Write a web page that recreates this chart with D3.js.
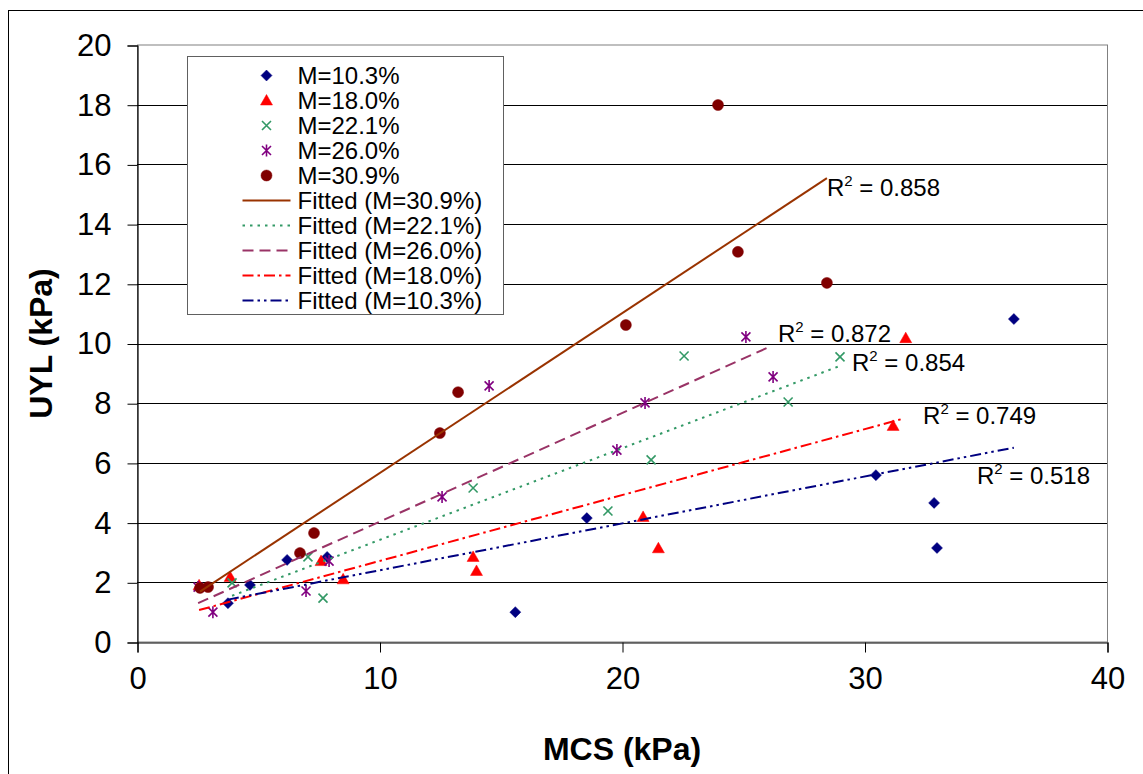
<!DOCTYPE html>
<html>
<head>
<meta charset="utf-8">
<script src="https://cdn.jsdelivr.net/npm/d3@7"></script>
<style>
  body { margin: 0; background: #fff; }
  text { font-family: "Liberation Sans", Arial, sans-serif; fill: #000; }
</style>
</head>
<body>
<div id="chart"></div>
<script>
// data (MCS in kPa, UYL in kPa)
const seriesNames = ["M=10.3%", "M=18.0%", "M=22.1%", "M=26.0%", "M=30.9%"];

const mcs103 = [3.75, 4.66, 6.19, 7.84, 15.6, 18.55, 30.47, 32.87, 32.99, 36.16];
const uyl103 = [1.3, 1.91, 2.75, 2.85, 1.0, 4.15, 5.59, 4.66, 3.15, 10.82];

const mcs180 = [2.56, 3.84, 7.59, 8.5, 13.86, 14.0, 20.87, 21.5, 31.18, 31.7];
const uyl180 = [1.9, 2.18, 2.71, 2.1, 2.85, 2.38, 4.19, 3.14, 7.24, 10.18];

const mcs221 = [3.92, 7.05, 7.67, 13.86, 19.42, 21.2, 22.56, 26.85, 28.99];
const uyl221 = [1.98, 2.85, 1.47, 5.16, 4.39, 6.1, 9.58, 8.04, 9.55];

const mcs260 = [2.52, 3.13, 6.97, 7.92, 12.58, 14.52, 19.79, 20.95, 26.23, 25.11];
const uyl260 = [1.84, 1.0, 1.71, 2.71, 4.86, 8.58, 6.43, 8.01, 8.88, 10.22];

const mcs309 = [2.6, 2.93, 6.72, 7.3, 12.49, 13.24, 20.16, 24.78, 28.45, 23.96];
const uyl309 = [1.81, 1.84, 2.98, 3.65, 7.0, 8.37, 10.62, 13.07, 12.03, 17.99];

// fitted lines, start and end points as drawn in the picture
const fitNames = ["Fitted (M=30.9%)", "Fitted (M=22.1%)", "Fitted (M=26.0%)", "Fitted (M=18.0%)", "Fitted (M=10.3%)"];
const fit309 = [[2.6, 1.69], [28.45, 15.54]];
const fit221 = [[3.92, 1.55], [28.99, 9.25]];
const fit260 = [[2.52, 1.3], [26.06, 9.88]];
const fit180 = [[2.56, 1.07], [31.59, 7.48]];
const fit103 = [[3.75, 1.42], [36.16, 6.51]];
const rSquared = ["0.858", "0.854", "0.872", "0.749", "0.518"];

const xTicks = [0, 10, 20, 30, 40];
const yTicks = [0, 2, 4, 6, 8, 10, 12, 14, 16, 18, 20];

const W = 1143, H = 774;
const margin = { top: 45, right: 36, bottom: 132, left: 137 };
const width = W - margin.left - margin.right;
const height = H - margin.top - margin.bottom;

const svg = d3.select("#chart").append("svg")
    .attr("width", W)
    .attr("height", H);

// outer chart border (runs off the right and bottom edge)
svg.append("rect")
    .attr("x", 8.5).attr("y", 10.5)
    .attr("width", W + 20).attr("height", H + 20)
    .attr("fill", "#fff")
    .attr("stroke", "#000");

const g = svg.append("g")
    .attr("transform", `translate(${margin.left},${margin.top})`);

const x = d3.scaleLinear().domain([0, 40]).range([0, width]);
const y = d3.scaleLinear().domain([0, 20]).range([height, 0]);

// plot area border
g.append("rect")
    .attr("x", 0.5).attr("y", 0)
    .attr("width", width).attr("height", height)
    .attr("fill", "#fff")
    .attr("stroke", "#808080");

// horizontal grid lines
g.selectAll("line.grid")
    .data(yTicks.filter(d => d > 0 && d < 20))
    .enter().append("line")
    .attr("class", "grid")
    .attr("x1", 0).attr("x2", width)
    .attr("y1", d => Math.round(y(d)) + 0.5)
    .attr("y2", d => Math.round(y(d)) + 0.5)
    .attr("stroke", "#000");

// axes
const xAxis = g.append("g")
    .attr("transform", `translate(0.5,${height + 0.5})`)
    .call(d3.axisBottom(x).tickValues(xTicks).tickSize(10).tickPadding(14));
const yAxis = g.append("g")
    .attr("transform", "translate(0.5,0.5)")
    .call(d3.axisLeft(y).tickValues(yTicks).tickSize(10).tickPadding(16));

[xAxis, yAxis].forEach(a => {
    a.select(".domain").attr("stroke", "#000").attr("stroke-width", 1.2);
    a.selectAll(".tick line").attr("stroke", "#000");
    a.selectAll("text")
        .style("font-family", '"Liberation Sans", Arial, sans-serif')
        .style("font-size", "31px")
        .attr("fill", "#000");
});
xAxis.selectAll("text").attr("dy", "0.72em");

// axis titles
svg.append("text")
    .attr("x", margin.left + width / 2)
    .attr("y", 760)
    .attr("text-anchor", "middle")
    .style("font-size", "32px")
    .style("font-weight", "bold")
    .text("MCS (kPa)");

svg.append("text")
    .attr("transform", `translate(52,${margin.top + height / 2}) rotate(-90)`)
    .attr("text-anchor", "middle")
    .style("font-size", "32px")
    .style("font-weight", "bold")
    .text("UYL (kPa)");

// marker shapes
const shapes = {
    diamond: "M0,-5.5L5.5,0L0,5.5L-5.5,0Z",
    triangle: "M0,-6L6,4.5L-6,4.5Z",
    cross: "M-4.5,-4.5L4.5,4.5M-4.5,4.5L4.5,-4.5",
    star: "M-4.5,-4.5L4.5,4.5M-4.5,4.5L4.5,-4.5M0,-6L0,6",
    circle: d3.symbol(d3.symbolCircle, 95)()
};

const series = [
    { name: seriesNames[0], xs: mcs103, ys: uyl103, shape: "diamond", color: "#000080", filled: true },
    { name: seriesNames[1], xs: mcs180, ys: uyl180, shape: "triangle", color: "#ff0000", filled: true },
    { name: seriesNames[2], xs: mcs221, ys: uyl221, shape: "cross", color: "#339966", filled: false },
    { name: seriesNames[3], xs: mcs260, ys: uyl260, shape: "star", color: "#800080", filled: false },
    { name: seriesNames[4], xs: mcs309, ys: uyl309, shape: "circle", color: "#800000", filled: true }
];

const fits = [
    { name: fitNames[0], pts: fit309, color: "#993300", dash: null, r2: rSquared[0], off: [0, 18] },
    { name: fitNames[1], pts: fit221, color: "#339966", dash: "2.5,5", r2: rSquared[1], off: [12, 5] },
    { name: fitNames[2], pts: fit260, color: "#993366", dash: "11,6", r2: rSquared[2], off: [9, -5] },
    { name: fitNames[3], pts: fit180, color: "#ff0000", dash: "11,4,2.5,4", r2: rSquared[3], off: [20, 5] },
    { name: fitNames[4], pts: fit103, color: "#000080", dash: "11,4,2.5,4,2.5,4", r2: rSquared[4], off: [-37, 36] }
];

function drawMarker(sel, s) {
    sel.append("path")
        .attr("d", shapes[s.shape])
        .attr("fill", s.filled ? s.color : "none")
        .attr("stroke", s.color)
        .attr("stroke-width", s.filled ? 0.5 : 1.6);
}

// markers
series.forEach(s => {
    g.append("g").selectAll("g")
        .data(s.xs.map((v, i) => [v, s.ys[i]]))
        .enter().append("g")
        .attr("transform", d => `translate(${x(d[0])},${y(d[1])})`)
        .each(function () { drawMarker(d3.select(this), s); });
});

// fitted lines
const line = d3.line().x(d => x(d[0])).y(d => y(d[1]));
fits.forEach(f => {
    g.append("path")
        .attr("d", line(f.pts))
        .attr("fill", "none")
        .attr("stroke", f.color)
        .attr("stroke-width", 2)
        .attr("stroke-dasharray", f.dash);

    const end = f.pts[1];
    const t = g.append("text")
        .attr("x", x(end[0]) + f.off[0])
        .attr("y", y(end[1]) + f.off[1])
        .style("font-size", "24px");
    t.append("tspan").text("R");
    t.append("tspan").attr("dy", -10).style("font-size", "15px").text("2");
    t.append("tspan").attr("dy", 10).text(" = " + f.r2);
});

// legend
const legend = svg.append("g").attr("transform", "translate(187.5,56.5)");
legend.append("rect")
    .attr("width", 316).attr("height", 258)
    .attr("fill", "#fff")
    .attr("stroke", "#606060");

series.forEach((s, i) => {
    const row = legend.append("g").attr("transform", `translate(0,${19 + i * 25})`);
    drawMarker(row.append("g").attr("transform", "translate(79,0)"), s);
    row.append("text").attr("x", 110).attr("dy", "0.36em")
        .style("font-size", "24px").text(s.name);
});
fits.forEach((f, i) => {
    const row = legend.append("g").attr("transform", `translate(0,${19 + (i + 5) * 25})`);
    row.append("line")
        .attr("x1", 55).attr("x2", 103)
        .attr("stroke", f.color)
        .attr("stroke-width", 2)
        .attr("stroke-dasharray", f.dash);
    row.append("text").attr("x", 110).attr("dy", "0.36em")
        .style("font-size", "24px").text(f.name);
});
</script>
</body>
</html>
